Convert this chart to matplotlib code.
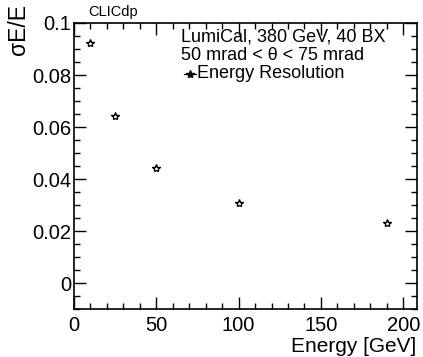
import matplotlib
matplotlib.use("Agg")
import matplotlib.pyplot as plt
from matplotlib.ticker import MultipleLocator
from matplotlib.lines import Line2D

plt.rcParams['font.family'] = ['Liberation Sans', 'DejaVu Sans']

energy = [10, 25, 50, 100, 190]
resolution = [0.0924, 0.0643, 0.0443, 0.0308, 0.0233]
legend_lines = ["LumiCal, 380 GeV, 40 BX", "50 mrad < \u03b8 < 75 mrad"]
series_label = "Energy Resolution"

fig = plt.figure(figsize=(4.23, 3.57), dpi=100)
ax = fig.add_axes([74/423, 1-309.3/357, (416.7-74)/423, (309.3-23)/357])

ax.plot(energy, resolution, linestyle='none', marker='*', markersize=6,
        markerfacecolor='white', markeredgecolor='black', markeredgewidth=1.0)

ax.set_xlim(0, 208.2)
ax.set_ylim(-0.01, 0.1)
ax.xaxis.set_major_locator(MultipleLocator(50))
ax.xaxis.set_minor_locator(MultipleLocator(10))
ax.yaxis.set_major_locator(MultipleLocator(0.02))
ax.yaxis.set_minor_locator(MultipleLocator(0.005))
ax.tick_params(which='both', direction='in', top=True, right=True, labelsize=14.5, width=1)
ax.tick_params(which='major', length=8.5)
ax.tick_params(which='minor', length=4.5)
ax.tick_params(axis='x', pad=5)
ax.tick_params(axis='y', pad=2)
ax.set_yticks([0, 0.02, 0.04, 0.06, 0.08, 0.1])
ax.set_yticklabels(['0', '0.02', '0.04', '0.06', '0.08', '0.1'])
for s in ax.spines.values():
    s.set_linewidth(1.2)

fig.text(19/423, 1-4/357, "\u03c3E/E", rotation=90, ha='center', va='top', fontsize=16.5)
fig.text(416/423, 1/357, "Energy [GeV]", ha='right', va='bottom', fontsize=15)
fig.text(88/423, 1-19/357, "CLICdp", ha='left', va='bottom', fontsize=10.5)

fig.text(181/423, 1-37/357, legend_lines[0], ha='left', va='center', fontsize=13)
fig.text(181/423, 1-56/357, legend_lines[1], ha='left', va='center', fontsize=13)
fig.text(197/423, 1-74/357, series_label, ha='left', va='center', fontsize=13)
fig.add_artist(Line2D([184/423, 196/423], [1-74/357, 1-74/357], color='black', lw=0.9,
                      transform=fig.transFigure))
fig.add_artist(Line2D([190/423], [1-74/357], color='black', marker='*', markersize=6,
                      linestyle='none', transform=fig.transFigure))

fig.savefig("out.png", dpi=100)
